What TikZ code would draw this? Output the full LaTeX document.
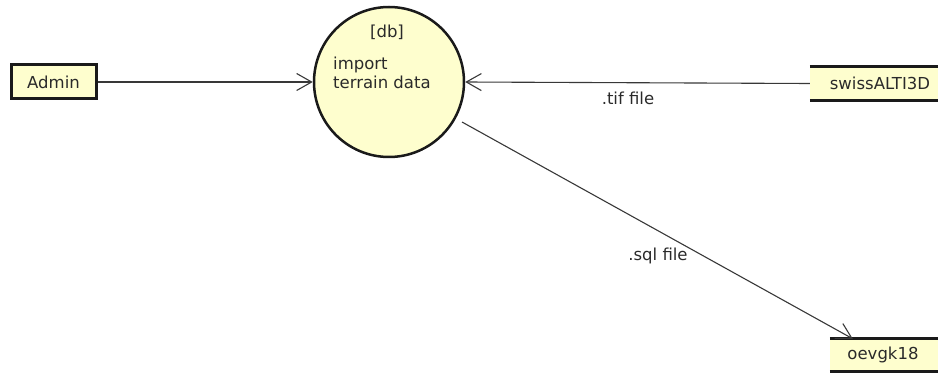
\documentclass[tikz,border=0pt]{standalone}
\usepackage{fontspec}
\setmainfont{DejaVu Sans}
\usetikzlibrary{arrows.meta}
\definecolor{boxfill}{HTML}{FEFECE}
\definecolor{ink}{HTML}{1A1A1A}
\definecolor{lineink}{HTML}{383838}
\definecolor{textink}{HTML}{2A2A2A}
\begin{document}
\begin{tikzpicture}[x=1pt,y=-1pt,
  every node/.style={font=\fontsize{16.5}{19}\selectfont, text=textink, inner sep=0pt},
  entity/.style={draw=ink, fill=boxfill, line width=3pt, minimum width=85pt, minimum height=34pt},
  process/.style={circle, draw=ink, fill=boxfill, line width=2.5pt, minimum size=150pt},
  storebox/.style={fill=boxfill, minimum height=33pt},
  storeline/.style={draw=ink, line width=3pt},
  flow/.style={draw=lineink, line width=1.1pt, -{Straight Barb[length=15pt, width=17pt, line width=1.1pt]}},
  flowlabel/.style={font=\fontsize{16.5}{19}\selectfont}
]
\useasboundingbox (0,0) rectangle (938,374);

% external entity
\node[entity] (admin) at (53.5,82) {Admin};

% process
\node[process] (proc) at (389,82) {};
\node (dbtag) at (387,32) {[db]};
\node[anchor=west, align=left] (proctext) at (333,72.5) {import\\terrain data};

% data stores
\node[storebox, minimum width=128pt] (alti) at (874,83.5) {};
\node (altitext) at (880,83) {swissALTI3D};
\draw[storeline] (alti.north west) -- (alti.north east);
\draw[storeline] (alti.south west) -- (alti.south east);

\node[storebox, minimum width=108pt, minimum height=32pt] (oevgk) at (884,355) {};
\node (oevgktext) at (883,355) {oevgk18};
\draw[storeline] (oevgk.north west) -- (oevgk.north east);
\draw[storeline] (oevgk.south west) -- (oevgk.south east);

% flows
\draw[flow] (admin.east) -- (proc.west);
\draw[flow] (alti.west) -- (proc.east);
\coordinate (sqlstart) at (462,122);
\coordinate (sqlend) at ([xshift=23pt]oevgk.north west);
\draw[flow] (sqlstart) -- (sqlend);

\node[flowlabel] (tiflabel) at (628,98) {.tif file};
\node[flowlabel] (sqllabel) at (658,256) {.sql file};
\end{tikzpicture}
\end{document}
